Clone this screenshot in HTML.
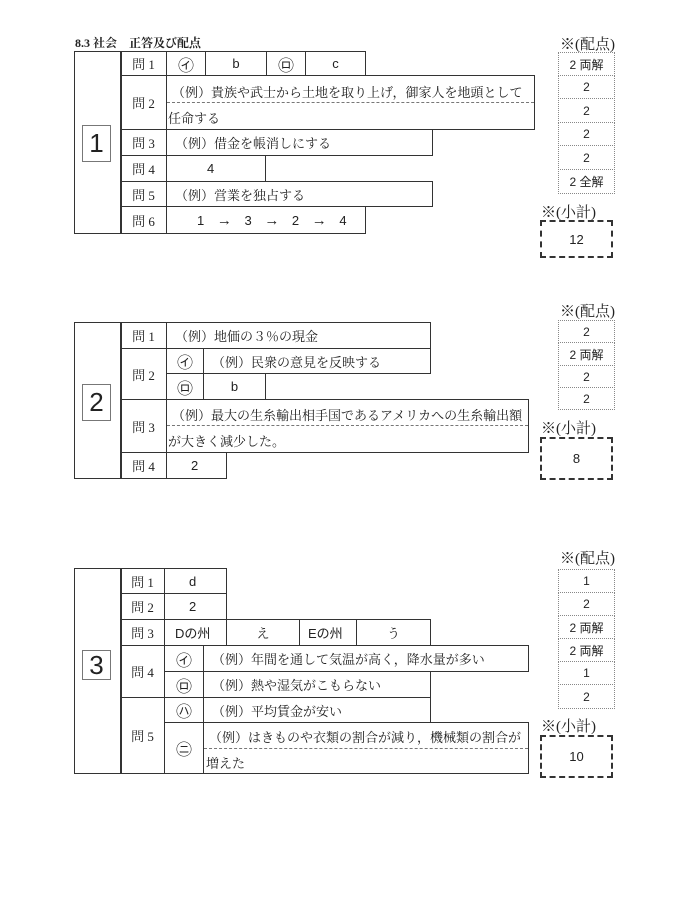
<!DOCTYPE html>
<html><head><meta charset="utf-8">
<style>
body{margin:0;background:#fff;width:680px;height:906px;position:relative;overflow:hidden;font-family:"Liberation Serif","Noto Serif CJK SC","Noto Sans CJK JP",serif;color:#222}
.c{position:absolute;box-sizing:border-box;border:1.3px solid #333;display:flex;align-items:center;font-size:13px;white-space:nowrap}
.m{justify-content:center}
.l{padding-left:8px}
.s{font-family:"Liberation Sans","Noto Sans CJK JP",sans-serif}
.t{position:absolute;font-size:13px;white-space:nowrap}
.dash{position:absolute;border-top:1px dashed #777}
.sc{position:absolute;box-sizing:border-box;border:1px dotted #888;display:flex;align-items:center;justify-content:center;font-size:12px;font-family:"Liberation Sans","Noto Sans CJK JP",sans-serif}
.sub{position:absolute;box-sizing:border-box;border:2.5px dashed #333;display:flex;align-items:center;justify-content:center;font-size:13px;font-family:"Liberation Sans",sans-serif}
.lab{position:absolute;font-size:15px;font-family:"Liberation Serif","Noto Serif CJK SC",serif}
.num{position:absolute;box-sizing:border-box;border:1px solid #777;display:flex;align-items:center;justify-content:center;font-size:26px;font-family:"Liberation Sans",sans-serif}
.ci{font-size:16px;font-family:"Noto Sans CJK JP",sans-serif}
.ar{font-family:"Liberation Sans",sans-serif;font-size:15px;font-weight:bold}
</style></head><body>
<div class="t" style="left:75px;top:34px;font-size:12px;font-weight:bold">8.3 社会　正答及び配点</div>

<!-- Section 1 -->
<div class="c" style="left:74px;top:51px;width:48px;height:183px;border-width:1.8px"></div>
<div class="num" style="left:82px;top:125px;width:29px;height:37px">1</div>
<div class="c m" style="left:120px;top:51px;width:47px;height:25px">問 1</div>
<div class="c m" style="left:120px;top:75px;width:47px;height:55px">問 2</div>
<div class="c m" style="left:120px;top:129px;width:47px;height:27px">問 3</div>
<div class="c m" style="left:120px;top:155px;width:47px;height:27px">問 4</div>
<div class="c m" style="left:120px;top:181px;width:47px;height:26px">問 5</div>
<div class="c m" style="left:120px;top:206px;width:47px;height:28px">問 6</div>
<div class="c m ci" style="left:166px;top:51px;width:40px;height:25px">㋑</div>
<div class="c m s" style="left:205px;top:51px;width:62px;height:25px">b</div>
<div class="c m ci" style="left:266px;top:51px;width:40px;height:25px">㋺</div>
<div class="c m s" style="left:305px;top:51px;width:61px;height:25px">c</div>
<div class="c" style="left:166px;top:75px;width:369px;height:55px"></div>
<div class="t" style="left:172px;top:82px">（例）貴族や武士から土地を取り上げ，御家人を地頭として</div>
<div class="dash" style="left:167px;top:102px;width:367px"></div>
<div class="t" style="left:168px;top:108px">任命する</div>
<div class="c l" style="left:166px;top:129px;width:267px;height:27px">（例）借金を帳消しにする</div>
<div class="c s" style="left:166px;top:155px;width:100px;height:27px;padding-left:40px">4</div>
<div class="c l" style="left:166px;top:181px;width:267px;height:26px">（例）営業を独占する</div>
<div class="c s" style="left:166px;top:206px;width:200px;height:28px;padding-left:30px"><span style="word-spacing:9px">1 <span class="ar">→</span> 3 <span class="ar">→</span> 2 <span class="ar">→</span> 4</span></div>

<div class="lab" style="left:560px;top:33px">※(配点)</div>
<div class="sc" style="left:558px;top:52px;width:57px;height:24px">2 両解</div>
<div class="sc" style="left:558px;top:75px;width:57px;height:24px">2</div>
<div class="sc" style="left:558px;top:98px;width:57px;height:25px">2</div>
<div class="sc" style="left:558px;top:122px;width:57px;height:24px">2</div>
<div class="sc" style="left:558px;top:145px;width:57px;height:25px">2</div>
<div class="sc" style="left:558px;top:169px;width:57px;height:25px">2 全解</div>
<div class="lab" style="left:541px;top:201px">※(小計)</div>
<div class="sub" style="left:540px;top:220px;width:73px;height:38px">12</div>

<!-- Section 2 -->
<div class="c" style="left:74px;top:322px;width:48px;height:157px;border-width:1.8px"></div>
<div class="num" style="left:82px;top:384px;width:29px;height:37px">2</div>
<div class="c m" style="left:120px;top:322px;width:47px;height:27px">問 1</div>
<div class="c m" style="left:120px;top:348px;width:47px;height:52px">問 2</div>
<div class="c m" style="left:120px;top:399px;width:47px;height:54px">問 3</div>
<div class="c m" style="left:120px;top:452px;width:47px;height:27px">問 4</div>
<div class="c l" style="left:166px;top:322px;width:265px;height:27px">（例）地価の３％の現金</div>
<div class="c m ci" style="left:166px;top:348px;width:38px;height:26px">㋑</div>
<div class="c l" style="left:203px;top:348px;width:228px;height:26px">（例）民衆の意見を反映する</div>
<div class="c m ci" style="left:166px;top:373px;width:38px;height:27px">㋺</div>
<div class="c m s" style="left:203px;top:373px;width:63px;height:27px">b</div>
<div class="c" style="left:166px;top:399px;width:363px;height:54px"></div>
<div class="t" style="left:172px;top:405px">（例）最大の生糸輸出相手国であるアメリカへの生糸輸出額</div>
<div class="dash" style="left:167px;top:425px;width:361px"></div>
<div class="t" style="left:168px;top:431px">が大きく減少した。</div>
<div class="c s" style="left:166px;top:452px;width:61px;height:27px;padding-left:24px">2</div>

<div class="lab" style="left:560px;top:300px">※(配点)</div>
<div class="sc" style="left:558px;top:320px;width:57px;height:23px">2</div>
<div class="sc" style="left:558px;top:342px;width:57px;height:24px">2 両解</div>
<div class="sc" style="left:558px;top:365px;width:57px;height:23px">2</div>
<div class="sc" style="left:558px;top:387px;width:57px;height:23px">2</div>
<div class="lab" style="left:541px;top:417px">※(小計)</div>
<div class="sub" style="left:540px;top:437px;width:73px;height:43px">8</div>

<!-- Section 3 -->
<div class="c" style="left:74px;top:568px;width:48px;height:206px;border-width:1.8px"></div>
<div class="num" style="left:82px;top:650px;width:29px;height:30px">3</div>
<div class="c m" style="left:120px;top:568px;width:45px;height:26px">問 1</div>
<div class="c m" style="left:120px;top:593px;width:45px;height:27px">問 2</div>
<div class="c m" style="left:120px;top:619px;width:45px;height:27px">問 3</div>
<div class="c m" style="left:120px;top:645px;width:45px;height:53px">問 4</div>
<div class="c m" style="left:120px;top:697px;width:45px;height:77px">問 5</div>
<div class="c s" style="left:164px;top:568px;width:63px;height:26px;padding-left:24px">d</div>
<div class="c s" style="left:164px;top:593px;width:63px;height:27px;padding-left:24px">2</div>
<div class="c s" style="left:164px;top:619px;width:63px;height:27px;padding-left:10px">Dの州</div>
<div class="c m" style="left:226px;top:619px;width:74px;height:27px">え</div>
<div class="c s" style="left:299px;top:619px;width:58px;height:27px;padding-left:8px">Eの州</div>
<div class="c m" style="left:356px;top:619px;width:75px;height:27px">う</div>
<div class="c m ci" style="left:164px;top:645px;width:40px;height:27px">㋑</div>
<div class="c l" style="left:203px;top:645px;width:326px;height:27px">（例）年間を通して気温が高く，降水量が多い</div>
<div class="c m ci" style="left:164px;top:671px;width:40px;height:27px">㋺</div>
<div class="c l" style="left:203px;top:671px;width:228px;height:27px">（例）熱や湿気がこもらない</div>
<div class="c m ci" style="left:164px;top:697px;width:40px;height:26px">㋩</div>
<div class="c l" style="left:203px;top:697px;width:228px;height:26px">（例）平均賃金が安い</div>
<div class="c m ci" style="left:164px;top:722px;width:40px;height:52px">㋥</div>
<div class="c" style="left:203px;top:722px;width:326px;height:52px"></div>
<div class="t" style="left:209px;top:727px">（例）はきものや衣類の割合が減り，機械類の割合が</div>
<div class="dash" style="left:204px;top:748px;width:324px"></div>
<div class="t" style="left:206px;top:753px">増えた</div>

<div class="lab" style="left:560px;top:547px">※(配点)</div>
<div class="sc" style="left:558px;top:569px;width:57px;height:24px">1</div>
<div class="sc" style="left:558px;top:592px;width:57px;height:24px">2</div>
<div class="sc" style="left:558px;top:615px;width:57px;height:24px">2 両解</div>
<div class="sc" style="left:558px;top:638px;width:57px;height:24px">2 両解</div>
<div class="sc" style="left:558px;top:661px;width:57px;height:24px">1</div>
<div class="sc" style="left:558px;top:684px;width:57px;height:25px">2</div>
<div class="lab" style="left:541px;top:715px">※(小計)</div>
<div class="sub" style="left:540px;top:735px;width:73px;height:43px">10</div>
</body></html>
